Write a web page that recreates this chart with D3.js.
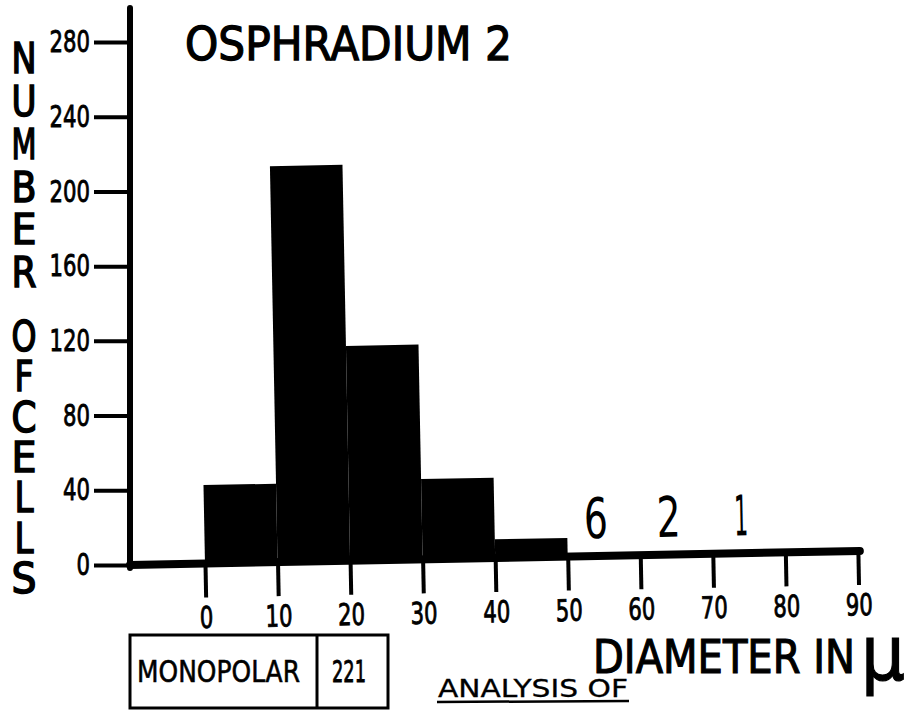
<!DOCTYPE html>
<html>
<head>
<meta charset="utf-8">
<script src="https://cdn.jsdelivr.net/npm/d3@7"></script>
<style>
  body { margin: 0; background: #fff; }
  svg text { font-family: "DejaVu Sans", sans-serif; fill: #000; stroke: #000; }
  .tick line { stroke: #000; stroke-width: 4; }
  .tick text { stroke-width: 0.9; }
</style>
</head>
<body>
<svg id="chart" width="913" height="713"></svg>
<script>
// histogram bins (lower edge, in micron) and counts
var binStarts = [0, 10, 20, 30, 40];
var cellCounts = [42, 212, 115, 43, 10];
// counts too small to draw, written above the axis
var smallBins = [50, 60, 70];
var smallCounts = [6, 2, 1];

var xTickValues = [0, 10, 20, 30, 40, 50, 60, 70, 80, 90];
var yTickValues = [0, 40, 80, 120, 160, 200, 240, 280];

var chartTitle = "OSPHRADIUM 2";
var yTitleWords = ["NUMBER", "OFCELLS"];
var xTitle = "DIAMETER IN";
var tableCells = ["MONOPOLAR", "221"];
var footNote = "ANALYSIS OF";

var svg = d3.select("svg#chart");

/*Scales*/
var x = d3.scaleLinear()
  .domain([0, 90])
  .range([205, 858]);

var y = d3.scaleLinear()
  .domain([0, 280])
  .range([565, 42]);

var axisX = 130;

// the drawing is a bit tilted on the scan
var plot = svg.append("g")
  .attr("id", "plot")
  .attr("transform", "rotate(-1.1," + axisX + "," + y(0) + ")");

plot.selectAll("rect.bar")
  .data(binStarts)
  .enter().append("rect")
    .attr("class", "bar")
    .attr("x", function(d) { return x(d); })
    .attr("y", function(d, i) { return y(cellCounts[i]); })
    .attr("width", function(d) { return x(d + 10) - x(d); })
    .attr("height", function(d, i) { return y(0) - y(cellCounts[i]); })
    .attr("fill", "#000");

var xAxis = d3.axisBottom(x)
  .tickValues(xTickValues)
  .tickSize(34)
  .tickPadding(9);

var gx = plot.append("g")
  .attr("id", "x-axis")
  .attr("transform", "translate(0," + y(0) + ")")
  .call(xAxis);
gx.select(".domain").remove();
gx.selectAll("text")
  .attr("font-size", 30)
  .attr("textLength", function(d) { return String(d).length * 13.5; })
  .attr("lengthAdjust", "spacingAndGlyphs");

// baseline
plot.append("line")
  .attr("x1", axisX)
  .attr("x2", x(90) + 2)
  .attr("y1", y(0))
  .attr("y2", y(0))
  .attr("stroke", "#000")
  .attr("stroke-width", 8)
  .attr("stroke-linecap", "round");

plot.selectAll("text.small")
  .data(smallBins)
  .enter().append("text")
    .attr("class", "small")
    .attr("x", function(d) { return x(d + 4); })
    .attr("y", y(0) - 18)
    .attr("text-anchor", "middle")
    .attr("font-size", 56)
    .attr("stroke-width", 0)
    .attr("textLength", function(d, i) { return smallCounts[i] == 1 ? 14 : 24; })
    .attr("lengthAdjust", "spacingAndGlyphs")
    .text(function(d, i) { return smallCounts[i]; });

var yAxis = d3.axisLeft(y)
  .tickValues(yTickValues)
  .tickSize(36)
  .tickPadding(4);

var gy = svg.append("g")
  .attr("id", "y-axis")
  .attr("transform", "translate(" + axisX + ",0)")
  .call(yAxis);
gy.select(".domain").remove();
gy.selectAll("text")
  .attr("font-size", 30)
  .attr("textLength", function(d) { return String(d).length * 13.5; })
  .attr("lengthAdjust", "spacingAndGlyphs");

svg.append("line")
  .attr("x1", axisX)
  .attr("x2", axisX)
  .attr("y1", 8)
  .attr("y2", y(0) + 3)
  .attr("stroke", "#000")
  .attr("stroke-width", 6)
  .attr("stroke-linecap", "round");

// titles
svg.append("text")
  .attr("x", 185)
  .attr("y", 60)
  .attr("font-size", 46)
  .attr("stroke-width", 1.3)
  .attr("textLength", 327)
  .attr("lengthAdjust", "spacingAndGlyphs")
  .text(chartTitle);

var wordStarts = [58, 336];
var wordPitch = [42.8, 40.3];
yTitleWords.forEach(function(word, w) {
  word.split("").forEach(function(ch, i) {
    svg.append("text")
      .attr("x", 24)
      .attr("y", wordStarts[w] + i * wordPitch[w])
      .attr("dy", "0.36em")
      .attr("text-anchor", "middle")
      .attr("font-size", 42)
      .attr("stroke-width", 1.6)
      .attr("textLength", (ch == "F" || ch == "L") ? 19 : 25)
      .attr("lengthAdjust", "spacingAndGlyphs")
      .text(ch);
  });
});

svg.append("text")
  .attr("x", 593)
  .attr("y", 673)
  .attr("font-size", 46)
  .attr("stroke-width", 1.2)
  .attr("textLength", 262)
  .attr("lengthAdjust", "spacingAndGlyphs")
  .text(xTitle);

svg.append("text")
  .attr("x", 861)
  .attr("y", 680)
  .attr("font-size", 76)
  .attr("stroke-width", 1.2)
  .attr("textLength", 44)
  .attr("lengthAdjust", "spacingAndGlyphs")
  .text("\u03bc");

// table under the axis
var table = svg.append("g").attr("id", "table");
table.append("rect")
  .attr("x", 130)
  .attr("y", 635)
  .attr("width", 258)
  .attr("height", 73)
  .attr("fill", "none")
  .attr("stroke", "#000")
  .attr("stroke-width", 3);
table.append("line")
  .attr("x1", 317).attr("x2", 317)
  .attr("y1", 635).attr("y2", 708)
  .attr("stroke", "#000")
  .attr("stroke-width", 3);
table.append("text")
  .attr("x", 137).attr("y", 682)
  .attr("font-size", 30)
  .attr("stroke-width", 0.6)
  .attr("textLength", 163)
  .attr("lengthAdjust", "spacingAndGlyphs")
  .text(tableCells[0]);
table.append("text")
  .attr("x", 332).attr("y", 682)
  .attr("font-size", 30)
  .attr("stroke-width", 0.9)
  .attr("textLength", 34)
  .attr("lengthAdjust", "spacingAndGlyphs")
  .text(tableCells[1]);

svg.append("text")
  .attr("x", 438).attr("y", 697)
  .attr("font-size", 24)
  .attr("stroke-width", 0.3)
  .attr("textLength", 190)
  .attr("lengthAdjust", "spacingAndGlyphs")
  .text(footNote);
svg.append("line")
  .attr("x1", 437).attr("x2", 629)
  .attr("y1", 702).attr("y2", 701)
  .attr("stroke", "#000")
  .attr("stroke-width", 2.5);
</script>
</body>
</html>
